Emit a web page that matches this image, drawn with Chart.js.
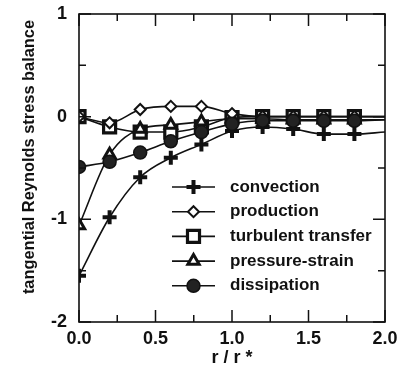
<!DOCTYPE html>
<html>
<head>
<meta charset="utf-8">
<script src="https://cdn.jsdelivr.net/npm/chart.js@4/dist/chart.umd.min.js"></script>
<style>
  body { margin: 0; background: #fff; }
  #wrap { width: 402px; height: 378px; }
</style>
</head>
<body>
<div id="wrap"><canvas id="chart" width="402" height="378"></canvas></div>
<script>
// r / r* positions of the measured stations
const rValues = [0, 0.2, 0.4, 0.6, 0.8, 1.0, 1.2, 1.4, 1.6, 1.8, 2.0]

const convection = [-1.55, -0.98, -0.59, -0.40, -0.27, -0.14, -0.10, -0.12, -0.17, -0.17, -0.15]
const production = [0.0, -0.06, 0.07, 0.10, 0.10, 0.03, 0.0, 0.0, 0.0, 0.0, 0.0]
const turbulentTransfer = [0.0, -0.10, -0.15, -0.15, -0.10, -0.01, 0.0, 0.0, 0.0, 0.0, 0.0]
const pressureStrain = [-1.06, -0.37, -0.12, -0.08, -0.05, -0.02, -0.02, -0.03, -0.03, -0.03, -0.03]
const dissipation = [-0.49, -0.44, -0.35, -0.24, -0.15, -0.07, -0.04, -0.04, -0.04, -0.04, -0.03]

const xTicks = [0, 0.5, 1.0, 1.5, 2.0]
const yTicks = [1, 0, -1, -2]
const yTitle = 'tangential Reynolds stress balance'

const FONT = "'Liberation Sans', Arial, sans-serif"

function pts(vals) {
    return vals.map((v, i) => ({ x: rValues[i], y: v }))
}
// last station (r/r* = 2) sits on the frame, no marker drawn there
function radii(r) {
    return rValues.map((x, i) => i === rValues.length - 1 ? 0 : r)
}

let series = [
    { label: 'convection', data: convection, style: 'cross', r: 7, bw: 4, fill: '#000', order: 1 },
    { label: 'production', data: production, style: 'rectRot', r: 5.5, bw: 2, fill: '#fff', order: 1 },
    { label: 'turbulent transfer', data: turbulentTransfer, style: 'rect', r: 8.5, bw: 3.2, fill: '#fff', order: 2 },
    { label: 'pressure-strain', data: pressureStrain, style: 'triangle', r: 6.5, bw: 3, fill: '#fff', order: 1 },
    { label: 'dissipation', data: dissipation, style: 'circle', r: 6.5, bw: 1.5, fill: '#222', order: 0 }
]

let datasets = series.map(s => ({
    label: s.label,
    data: pts(s.data),
    order: s.order,
    pointStyle: s.style,
    pointRadius: radii(s.r),
    pointHoverRadius: radii(s.r),
    pointBorderWidth: s.bw,
    pointBorderColor: '#111',
    pointBackgroundColor: s.fill,
    borderColor: '#111',
    borderWidth: 1.6,
    cubicInterpolationMode: 'monotone',
    fill: false
}))

// box, inward ticks, y title and the legend drawn on top
const framePlugin = {
    id: 'frame',
    afterDatasetsDraw(chart) {
        const ctx = chart.ctx
        const a = chart.chartArea
        const xs = chart.scales.x
        const ys = chart.scales.y
        ctx.save()
        ctx.strokeStyle = '#111'
        ctx.lineWidth = 1.6
        ctx.strokeRect(a.left, a.top, a.right - a.left, a.bottom - a.top)

        ctx.lineWidth = 1.5
        ctx.beginPath()
        for (let v = 0; v <= 2.0001; v += 0.25) {
            let px = xs.getPixelForValue(v)
            let len = Math.abs(v / 0.5 - Math.round(v / 0.5)) < 0.01 ? 12 : 7
            ctx.moveTo(px, a.bottom); ctx.lineTo(px, a.bottom - len)
            ctx.moveTo(px, a.top); ctx.lineTo(px, a.top + len)
        }
        for (let v = -2; v <= 1.0001; v += 0.5) {
            let py = ys.getPixelForValue(v)
            let len = Math.abs(v - Math.round(v)) < 0.01 ? 12 : 7
            ctx.moveTo(a.left, py); ctx.lineTo(a.left + len, py)
            ctx.moveTo(a.right, py); ctx.lineTo(a.right - len, py)
        }
        ctx.stroke()

        // y axis title
        ctx.save()
        ctx.translate(29, 157)
        ctx.rotate(-Math.PI / 2)
        ctx.font = 'bold 16.4px ' + FONT
        ctx.textAlign = 'center'
        ctx.textBaseline = 'middle'
        ctx.fillStyle = '#111'
        ctx.fillText(yTitle, 0, 0)
        ctx.restore()

        // legend
        let lx = 172, lw = 43, ty = 187, step = 24.7
        ctx.font = 'bold 17px ' + FONT
        ctx.textBaseline = 'middle'
        ctx.textAlign = 'left'
        chart.data.datasets.forEach((ds, i) => {
            let y = ty + i * step
            ctx.strokeStyle = '#111'
            ctx.lineWidth = 1.6
            ctx.beginPath()
            ctx.moveTo(lx, y); ctx.lineTo(lx + lw, y)
            ctx.stroke()
            ctx.fillStyle = ds.pointBackgroundColor
            ctx.strokeStyle = ds.pointBorderColor
            ctx.lineWidth = ds.pointBorderWidth
            Chart.helpers.drawPoint(ctx, {
                pointStyle: ds.pointStyle,
                radius: ds.pointRadius[0],
                rotation: 0,
                borderWidth: ds.pointBorderWidth
            }, lx + lw / 2, y)
            ctx.fillStyle = '#111'
            ctx.fillText(ds.label, 230, y)
        })
        ctx.restore()
    }
}

let ctx = document.getElementById('chart').getContext('2d')
let chart = new Chart(ctx, {
    type: 'line',
    data: { datasets: datasets },
    options: {
        responsive: false,
        animation: false,
        layout: { padding: { top: 14, right: 17, left: 0, bottom: 0 } },
        plugins: { legend: { display: false }, tooltip: { enabled: false } },
        scales: {
            x: {
                type: 'linear',
                min: 0, max: 2,
                afterFit: s => { s.height = 56; s.paddingLeft = 0; s.paddingRight = 0 },
                afterBuildTicks: s => { s.ticks = xTicks.map(v => ({ value: v })) },
                grid: { display: false, drawTicks: false },
                border: { display: false },
                ticks: {
                    color: '#111', padding: 6,
                    font: { family: FONT, size: 18, weight: 'bold' },
                    callback: v => v.toFixed(1),
                    maxRotation: 0
                },
                title: {
                    display: true, text: 'r / r *', color: '#111',
                    font: { family: FONT, size: 18, weight: 'bold' },
                    padding: { top: 0, bottom: 9 }
                }
            },
            y: {
                min: -2, max: 1,
                afterFit: s => { s.width = 79; s.paddingTop = 0; s.paddingBottom = 0 },
                afterBuildTicks: s => { s.ticks = yTicks.map(v => ({ value: v })) },
                grid: { display: false, drawTicks: false },
                border: { display: false },
                ticks: {
                    color: '#111', padding: 12,
                    font: { family: FONT, size: 18, weight: 'bold' }
                }
            }
        }
    },
    plugins: [framePlugin]
})
</script>
</body>
</html>
